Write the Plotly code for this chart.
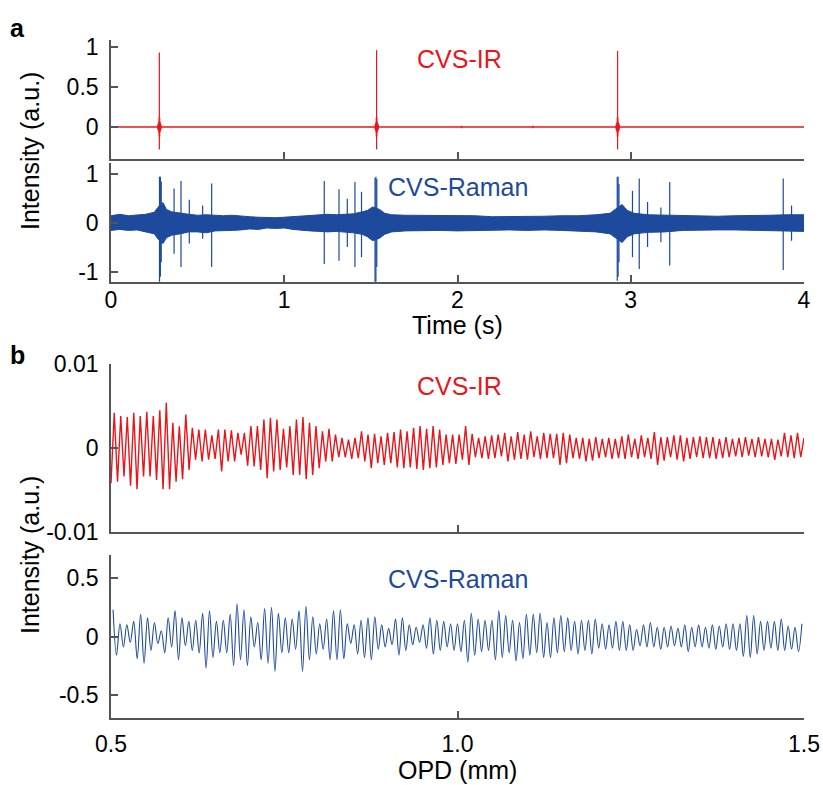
import numpy as np
import plotly.graph_objects as go

# ---------- panel a : time traces (s) ----------
# CVS-IR: flat baseline with three interferogram bursts
ir_a_spike_t = [0.279, 1.533, 2.924]
ir_a_spike_top = [0.93, 0.96, 0.95]
ir_a_spike_bottom = [-0.28, -0.28, -0.28]
ir_a_burst_t = [0.270, 0.274, 0.277, 0.282, 0.285, 0.289,
                1.524, 1.528, 1.531, 1.536, 1.539, 1.543,
                2.915, 2.919, 2.922, 2.927, 2.930, 2.934,
                2.024, 2.435]
ir_a_burst_amp = [0.03, 0.05, 0.07, 0.07, 0.05, 0.03,
                  0.03, 0.05, 0.07, 0.07, 0.05, 0.03,
                  0.03, 0.05, 0.07, 0.07, 0.05, 0.03,
                  0.015, 0.015]
ir_a_halo_amp = [0.12, 0.12, 0.12]

# CVS-Raman: noise band (upper / lower envelope) plus sharp spikes
raman_env_t = [0.00, 0.05, 0.10, 0.15, 0.20, 0.25, 0.27, 0.30, 0.32, 0.35, 0.40, 0.45,
               0.50, 0.55, 0.60, 0.65, 0.70, 0.75, 0.80, 0.85, 0.90, 0.95, 1.00, 1.05,
               1.10, 1.15, 1.20, 1.25, 1.30, 1.35, 1.40, 1.45, 1.48, 1.51, 1.55, 1.58,
               1.62, 1.70, 1.80, 1.90, 2.00, 2.10, 2.20, 2.30, 2.40, 2.50, 2.60, 2.70,
               2.80, 2.88, 2.91, 2.95, 2.98, 3.02, 3.10, 3.20, 3.30, 3.40, 3.50, 3.60,
               3.70, 3.80, 3.90, 4.00]
raman_env_up = [0.15, 0.18, 0.15, 0.16, 0.18, 0.22, 0.32, 0.42, 0.28, 0.23, 0.20, 0.18,
                0.16, 0.17, 0.16, 0.15, 0.16, 0.14, 0.13, 0.12, 0.11, 0.11, 0.12, 0.13,
                0.15, 0.16, 0.16, 0.18, 0.17, 0.18, 0.19, 0.23, 0.26, 0.33, 0.28, 0.20,
                0.17, 0.16, 0.16, 0.15, 0.16, 0.15, 0.13, 0.13, 0.14, 0.14, 0.15, 0.15,
                0.17, 0.20, 0.28, 0.38, 0.26, 0.20, 0.17, 0.16, 0.15, 0.14, 0.14, 0.15,
                0.15, 0.16, 0.17, 0.17]
raman_env_lo = [-0.15, -0.13, -0.15, -0.14, -0.18, -0.22, -0.32, -0.42, -0.30, -0.25, -0.22, -0.18,
                -0.18, -0.20, -0.16, -0.16, -0.15, -0.14, -0.12, -0.13, -0.10, -0.11, -0.10, -0.13,
                -0.15, -0.16, -0.17, -0.18, -0.17, -0.18, -0.20, -0.23, -0.28, -0.36, -0.31, -0.23,
                -0.18, -0.16, -0.15, -0.15, -0.16, -0.15, -0.14, -0.14, -0.15, -0.14, -0.15, -0.16,
                -0.18, -0.22, -0.30, -0.40, -0.28, -0.22, -0.19, -0.18, -0.15, -0.14, -0.14, -0.14,
                -0.15, -0.16, -0.17, -0.17]
raman_spike_t = [0.280, 0.285, 0.290, 0.364, 0.404, 0.452, 0.529, 0.581,
                 1.231, 1.316, 1.364, 1.408, 1.446, 1.524, 1.529, 1.534,
                 2.922, 2.927, 2.932, 3.010, 3.049, 3.097, 3.174, 3.225, 3.880, 3.928]
raman_spike_top = [0.95, 0.95, 0.85, 0.71, 0.86, 0.48, 0.36, 0.81,
                   0.86, 0.69, 0.50, 0.84, 0.64, 0.93, 0.95, 0.90,
                   0.95, 0.95, 0.80, 0.66, 0.91, 0.43, 0.32, 0.84, 0.91, 0.36]
raman_spike_bottom = [-1.25, -1.10, -0.80, -0.63, -0.90, -0.42, -0.32, -0.90,
                      -0.84, -0.77, -0.49, -0.90, -0.70, -1.25, -1.25, -0.90,
                      -1.18, -1.10, -0.80, -0.70, -0.94, -0.49, -0.39, -0.87, -0.96, -0.36]

# ---------- panel b : interferograms vs OPD (mm) ----------
# CVS-IR, successive extrema (x 1e-3)
ir_b_milli = [
    -4.2, 4.2, -4.0, 3.8, -3.4, 3.7, -4.5, 4.2, -4.9, 3.8,
    -3.4, 4.3, -3.4, 3.8, -3.8, 4.5, -4.9, 5.4, -4.9, 3.0,
    -4.0, 2.6, -3.7, 4.0, -2.6, 2.4, -1.4, 2.2, -1.6, 2.2,
    -1.4, 1.5, -1.3, 2.2, -2.8, 2.2, -1.6, 2.1, -1.6, 1.8,
    -0.8, 1.8, -2.1, 2.6, -2.2, 2.6, -2.6, 3.4, -3.6, 3.6,
    -2.8, 3.4, -2.6, 2.3, -2.3, 2.6, -3.2, 3.4, -3.2, 3.7,
    -3.7, 3.0, -3.2, 2.6, -2.4, 2.0, -1.6, 2.3, -1.6, 1.6,
    -1.1, 1.2, -1.1, 1.0, -1.3, 1.2, -1.2, 2.0, -1.6, 1.6,
    -2.4, 1.7, -1.8, 1.4, -2.0, 1.8, -1.8, 1.9, -2.3, 2.2,
    -2.4, 2.0, -2.3, 2.4, -2.5, 2.6, -2.6, 2.3, -2.4, 2.6,
    -2.3, 2.2, -2.0, 1.6, -1.8, 1.6, -1.9, 1.6, -1.4, 2.6,
    -2.0, 1.7, -1.1, 1.2, -1.2, 1.4, -1.3, 1.5, -1.2, 1.6,
    -1.0, 1.8, -1.6, 1.4, -1.4, 1.9, -1.3, 1.6, -1.4, 2.0,
    -1.1, 1.4, -1.3, 1.8, -1.2, 1.7, -1.2, 1.7, -2.0, 1.8,
    -1.8, 1.6, -1.2, 1.2,
    -1.3, 1.2, -1.6, 1.1, -1.5, 1.3, -1.2, 1.1, -1.1, 1.2,
    -1.3, 1.1, -1.2, 1.4, -1.3, 1.6, -1.1, 1.1, -1.3, 1.5,
    -1.1, 1.2, -1.3, 1.9, -2.0, 1.3, -1.5, 1.3, -1.1, 1.5,
    -1.4, 1.5, -1.6, 1.2, -1.3, 1.3, -1.1, 1.4, -1.2, 1.3,
    -1.2, 1.3, -1.3, 1.1, -1.2, 1.3, -1.1, 1.1, -1.0, 1.2,
    -1.1, 1.3, -0.9, 1.1, -1.1, 1.3, -1.0, 1.1, -1.1, 1.1,
    -1.4, 1.0, -1.0, 1.8, -1.1, 1.5, -1.2, 1.8, -1.1, 1.2]

# CVS-Raman, successive extrema
raman_b = [
    0.23, -0.16, 0.11, -0.09, 0.10, -0.05, 0.13, -0.19, 0.19, -0.23,
    0.16, -0.12, 0.12, -0.06, 0.05, -0.14, 0.16, -0.09, 0.22, -0.20,
    0.16, -0.08, 0.13, -0.12, 0.14, -0.14, 0.20, -0.27, 0.22, -0.18,
    0.13, -0.14, 0.14, -0.14, 0.19, -0.25, 0.28, -0.20, 0.23, -0.25,
    0.17, -0.09, 0.12, -0.20, 0.24, -0.23, 0.25, -0.30, 0.20, -0.14,
    0.16, -0.14, 0.15, -0.11, 0.22, -0.30, 0.26, -0.20, 0.17, -0.15,
    0.11, -0.11, 0.15, -0.20, 0.22, -0.20, 0.23,
    -0.19, 0.11, -0.06, 0.10, -0.15, 0.14, -0.18, 0.16, -0.20, 0.17,
    -0.11, 0.10, -0.09, 0.07, -0.07, 0.15, -0.16, 0.16, -0.12, 0.10,
    -0.07, 0.08, -0.05, 0.10, -0.10, 0.16, -0.15, 0.14, -0.12, 0.13,
    -0.09, 0.11, -0.12, 0.11, -0.13, 0.14, -0.22, 0.20, -0.16, 0.15,
    -0.13, 0.14, -0.12, 0.14, -0.20, 0.22, -0.18, 0.18, -0.14, 0.14,
    -0.21, 0.12, -0.19, 0.19, -0.16, 0.19, -0.14, 0.20, -0.18, 0.12,
    -0.18, 0.16, -0.14, 0.18, -0.13, 0.16, -0.12, 0.13,
    -0.15, 0.14, -0.12, 0.14, -0.15, 0.15, -0.10, 0.11, -0.11, 0.10,
    -0.10, 0.13, -0.12, 0.13, -0.12, 0.10, -0.12, 0.06, -0.08, 0.10,
    -0.09, 0.12, -0.09, 0.08, -0.11, 0.08, -0.09, 0.09, -0.08, 0.07,
    -0.09, 0.10, -0.13, 0.08, -0.09, 0.10, -0.09, 0.08, -0.10, 0.10,
    -0.11, 0.09, -0.09, 0.11, -0.11, 0.11, -0.12, 0.11, -0.17, 0.18,
    -0.18, 0.18, -0.15, 0.13, -0.12, 0.13, -0.10, 0.13, -0.12, 0.15,
    -0.12, 0.09, -0.11, 0.08, -0.13, 0.11]

RED = "#E8161B"
BLUE = "#1D4A9C"
AXC = "#555555"
FONT = "Arial, 'Liberation Sans', sans-serif"


def segs(t, top, bottom):
    xs, ys = [], []
    for a, b, c in zip(t, top, bottom):
        xs += [a, a, None]
        ys += [c, b, None]
    return xs, ys


fig = go.Figure()

# panel a, IR
fig.add_trace(go.Scatter(x=[0, 4], y=[0, 0], mode="lines",
                         line=dict(color=RED, width=1.6), xaxis="x", yaxis="y"))
hx, hy = segs(ir_a_spike_t, ir_a_halo_amp, [-a for a in ir_a_halo_amp])
fig.add_trace(go.Scatter(x=hx, y=hy, mode="lines", opacity=0.35,
                         line=dict(color=RED, width=3), xaxis="x", yaxis="y"))
bx, by = segs(ir_a_burst_t, ir_a_burst_amp, [-a for a in ir_a_burst_amp])
fig.add_trace(go.Scatter(x=bx, y=by, mode="lines",
                         line=dict(color=RED, width=1.2), xaxis="x", yaxis="y"))
sx, sy = segs(ir_a_spike_t, ir_a_spike_top, ir_a_spike_bottom)
fig.add_trace(go.Scatter(x=sx, y=sy, mode="lines",
                         line=dict(color=RED, width=1.2), xaxis="x", yaxis="y"))

# panel a, Raman
fig.add_trace(go.Scatter(x=raman_env_t, y=raman_env_up, mode="lines",
                         line=dict(color=BLUE, width=1), xaxis="x2", yaxis="y2"))
fig.add_trace(go.Scatter(x=raman_env_t, y=raman_env_lo, mode="lines", fill="tonexty",
                         fillcolor=BLUE, line=dict(color=BLUE, width=1),
                         xaxis="x2", yaxis="y2"))
rx, ry = segs(raman_spike_t, raman_spike_top, raman_spike_bottom)
fig.add_trace(go.Scatter(x=rx, y=ry, mode="lines",
                         line=dict(color=BLUE, width=1.2), xaxis="x2", yaxis="y2"))

# panel b
ir_b = np.array(ir_b_milli) * 1e-3
fig.add_trace(go.Scatter(x=np.linspace(0.5, 1.5, len(ir_b)), y=ir_b, mode="lines",
                         line=dict(color=RED, width=1.4), xaxis="x3", yaxis="y3"))
fig.add_trace(go.Scatter(x=np.linspace(0.503, 1.497, len(raman_b)), y=raman_b,
                         mode="lines", line=dict(color=BLUE, width=1.1, shape="spline"),
                         xaxis="x4", yaxis="y4"))

axis_common = dict(showline=True, linecolor=AXC, linewidth=1.6, ticks="inside",
                   ticklen=7, tickwidth=1.6, tickcolor=AXC, showgrid=False,
                   zeroline=False, mirror=False,
                   tickfont=dict(family=FONT, size=23, color="black"))

fig.update_layout(
    width=823, height=785,
    margin=dict(l=111, r=19, t=40, b=67, autoexpand=False),
    paper_bgcolor="white", plot_bgcolor="white",
    showlegend=False,
    font=dict(family=FONT, color="black"),
    xaxis=dict(domain=[0, 1], anchor="y", range=[0, 4], tickvals=[0, 1, 2, 3, 4],
               showticklabels=False, **axis_common),
    yaxis=dict(domain=[0.8245, 1], anchor="x", range=[-0.4, 1.0875],
               tickvals=[0, 0.5, 1], ticktext=["0", "0.5", "1"], ticklabelstandoff=6,
               **axis_common),
    xaxis2=dict(domain=[0, 1], anchor="y2", range=[0, 4], tickvals=[0, 1, 2, 3, 4],
                ticktext=["0", "1", "2", "3", "4"], ticklabelstandoff=-3, **axis_common),
    yaxis2=dict(domain=[0.6435, 0.8186], anchor="x2", range=[-1.2, 1.23],
                tickvals=[-1, 0, 1], ticktext=["-1", "0", "1"], ticklabelstandoff=6,
                **axis_common),
    xaxis3=dict(domain=[0, 1], anchor="y3", range=[0.5, 1.5], tickvals=[0.5, 1.0, 1.5],
                showticklabels=False, **axis_common),
    yaxis3=dict(domain=[0.2743, 0.5221], anchor="x3", range=[-0.01, 0.01],
                tickvals=[-0.01, 0, 0.01], ticktext=["-0.01", "0", "0.01"],
                ticklabelstandoff=6, **axis_common),
    xaxis4=dict(domain=[0, 1], anchor="y4", range=[0.5, 1.5], tickvals=[0.5, 1.0, 1.5],
                ticktext=["0.5", "1.0", "1.5"], ticklabelstandoff=5, **axis_common),
    yaxis4=dict(domain=[0, 0.2404], anchor="x4", range=[-0.7, 0.7],
                tickvals=[-0.5, 0, 0.5], ticktext=["-0.5", "0", "0.5"],
                ticklabelstandoff=6, **axis_common),
)


def px_x(p):
    return (p - 111) / 693


def px_y(p):
    return 1 - (p - 40) / 678


notes = [
    ("<b>a</b>", 17, 28, "black", 0),
    ("<b>b</b>", 17, 355, "black", 0),
    ("CVS-IR", 459, 59, RED, 0),
    ("CVS-Raman", 458, 187, BLUE, 0),
    ("CVS-IR", 459, 386, RED, 0),
    ("CVS-Raman", 458, 579, BLUE, 0),
    ("Time (s)", 457, 325, "black", 0),
    ("OPD (mm)", 457, 770, "black", 0),
    ("Intensity (a.u.)", 30, 151, "black", -90),
    ("Intensity (a.u.)", 30, 555, "black", -90),
]
for text, x, y, col, ang in notes:
    fig.add_annotation(text=text, x=px_x(x), y=px_y(y), xref="paper", yref="paper",
                       xanchor="center", yanchor="middle", showarrow=False,
                       textangle=ang, font=dict(family=FONT, size=25, color=col))

# drop the default page margin so the figure fills the window exactly
fig.write_html("out.html", config={"displayModeBar": False},
               post_script="document.body.style.margin='0';")
